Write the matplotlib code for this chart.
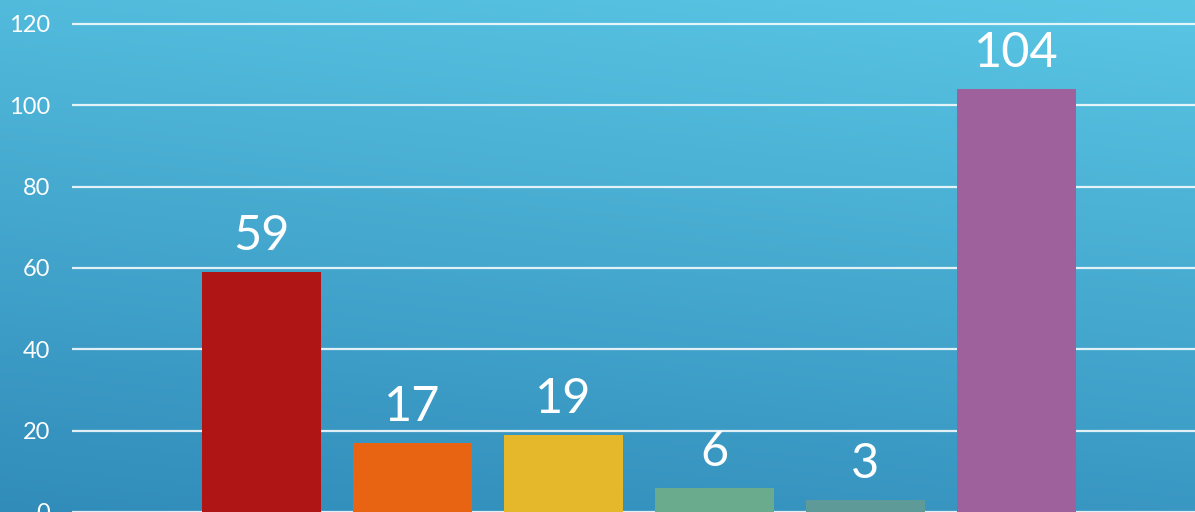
import numpy as np
import matplotlib.pyplot as plt
from matplotlib.colors import to_rgb

# data
values = [59, 17, 19, 6, 3, 104]
bar_colors = ['#B01515', '#E96412', '#E4B82A', '#6AAB8E', '#5E9A98', '#9E619B']
y_ticks = [0, 20, 40, 60, 80, 100, 120]

fig = plt.figure(figsize=(11.95, 5.12), dpi=100)

# gradient background (lighter top right, darker bottom left)
bg = fig.add_axes([0, 0, 1, 1])
bg.set_axis_off()
h, w = 128, 300
yy, xx = np.mgrid[0:1:h * 1j, 0:1:w * 1j]
t = np.clip(0.8 * yy + 0.2 * xx, 0, 1)[..., None]
top = np.array(to_rgb('#5AC6E4'))
bottom = np.array(to_rgb('#318CBA'))
img = bottom + (top - bottom) * t
bg.imshow(img, origin='lower', aspect='auto', extent=[0, 1, 0, 1])
bg.set_xlim(0, 1)
bg.set_ylim(0, 1)

ax = fig.add_axes([72 / 1195, 0, 1123 / 1195, 1])
ax.patch.set_alpha(0)
x = np.arange(len(values))
ax.bar(x, values, width=0.79, color=bar_colors, zorder=3)
for xi, v in zip(x, values):
    ax.annotate(str(v), (xi, v), xytext=(0, 10), textcoords='offset points',
                ha='center', va='bottom', color='white', fontsize=35,
                family='Lato', fontweight='normal', zorder=4)

ax.set_xlim(-1.255, 6.182)
ax.set_ylim(1.0, 125.85)
ax.set_yticks(y_ticks)
ax.set_yticklabels([str(t) for t in y_ticks], family='Lato', fontweight='normal')
ax.tick_params(axis='y', length=0, pad=16, labelsize=17, labelcolor='white')
ax.set_xticks([])
ax.grid(axis='y', color='white', linewidth=1.6, alpha=0.85, zorder=1)
ax.set_axisbelow(True)
for s in ax.spines.values():
    s.set_visible(False)

fig.savefig('out.png', dpi=100)
